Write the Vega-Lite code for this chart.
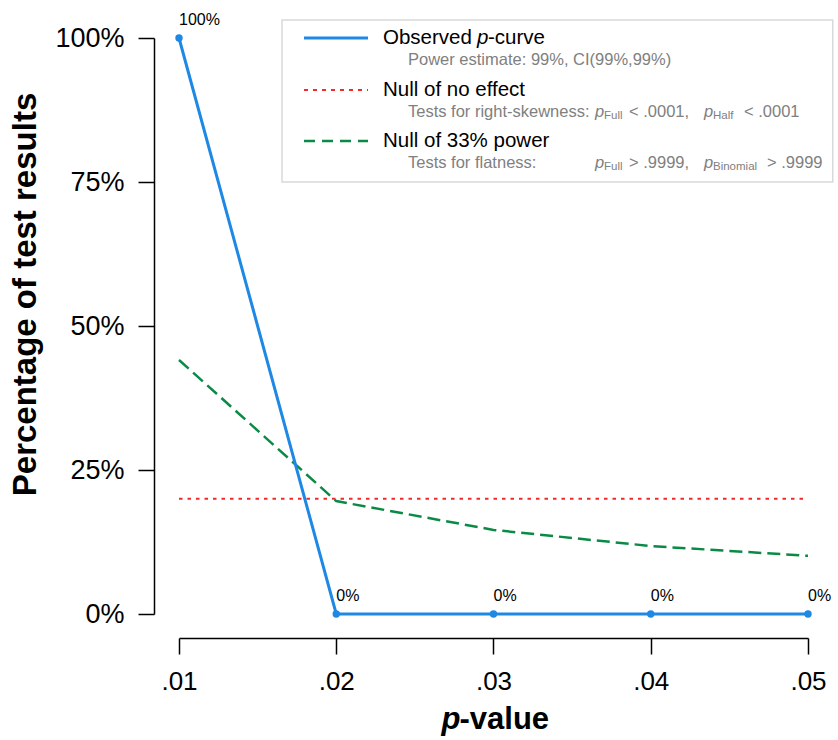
{
  "$schema": "https://vega.github.io/schema/vega-lite/v6.json",
  "width": 629,
  "height": 576,
  "autosize": "none",
  "padding": {"left": 179, "top": 38, "right": 30, "bottom": 126},
  "background": "white",
  "config": {
    "font": "Liberation Sans",
    "view": {"stroke": null},
    "axis": {"grid": false, "domainColor": "black", "tickColor": "black", "domainWidth": 1.5, "tickWidth": 1.5, "labelColor": "black", "titleColor": "black", "labelFont": "Liberation Sans", "titleFont": "Liberation Sans"}
  },
  "datasets": {
    "curves": [
      {"series": "observed", "p": 0.01, "pct": 100},
      {"series": "observed", "p": 0.02, "pct": 0},
      {"series": "observed", "p": 0.03, "pct": 0},
      {"series": "observed", "p": 0.04, "pct": 0},
      {"series": "observed", "p": 0.05, "pct": 0},
      {"series": "null33", "p": 0.01, "pct": 44.1},
      {"series": "null33", "p": 0.02, "pct": 19.6},
      {"series": "null33", "p": 0.03, "pct": 14.6},
      {"series": "null33", "p": 0.04, "pct": 11.8},
      {"series": "null33", "p": 0.05, "pct": 10.1},
      {"series": "null0", "p": 0.01, "pct": 20},
      {"series": "null0", "p": 0.02, "pct": 20},
      {"series": "null0", "p": 0.03, "pct": 20},
      {"series": "null0", "p": 0.04, "pct": 20},
      {"series": "null0", "p": 0.05, "pct": 20}
    ]
  },
  "data": {"name": "curves"},
  "layer": [
    {
      "encoding": {
        "x": {"field": "p", "type": "quantitative", "scale": {"domain": [0.01, 0.05], "nice": false, "zero": false},
          "axis": {"values": [0.01, 0.02, 0.03, 0.04, 0.05], "offset": 24, "tickSize": 16, "labelFontSize": 26, "labelPadding": 14, "labelExpr": "substring(format(datum.value, '.2f'), 1)", "title": null, "labelFlush": false}},
        "y": {"field": "pct", "type": "quantitative", "scale": {"domain": [0, 100], "nice": false},
          "axis": {"values": [0, 25, 50, 75, 100], "offset": 25, "tickSize": 16, "labelFontSize": 27, "labelPadding": 14, "labelExpr": "datum.value + '%'", "labelFlush": false, "title": "Percentage of test results", "titleFontSize": 33, "titleFontWeight": "bold", "titlePadding": 12, "titleY": 256}}
      },
      "layer": [
        {"transform": [{"filter": "datum.series === 'null0'"}], "mark": {"type": "line", "color": "#F22A2A", "strokeWidth": 2, "strokeDash": [3.5, 5]}},
        {"transform": [{"filter": "datum.series === 'null33'"}], "mark": {"type": "line", "color": "#0A8A45", "strokeWidth": 2.5, "strokeDash": [13, 6]}},
        {"transform": [{"filter": "datum.series === 'observed'"}], "mark": {"type": "line", "color": "#1E88E5", "strokeWidth": 3}},
        {"transform": [{"filter": "datum.series === 'observed'"}], "mark": {"type": "point", "filled": true, "opacity": 1, "color": "#1E88E5", "size": 55}},
        {"transform": [{"filter": "datum.series === 'observed'"}, {"calculate": "datum.pct + '%'", "as": "lab"}], "mark": {"type": "text", "align": "left", "baseline": "alphabetic", "dx": 0, "dy": -13, "fontSize": 16, "color": "black"}, "encoding": {"text": {"field": "lab"}}}
      ]
    },
    {
      "transform": [{"filter": "datum.series === 'observed' && datum.pct === 100"}],
      "layer": [
        {"mark": {"type": "text", "align": "right", "baseline": "middle", "fontSize": 31, "fontWeight": "bold", "fontStyle": "italic", "dx": -33, "color": "black"},
          "encoding": {"x": {"datum": 0.03}, "y": {"datum": -18.4}, "text": {"value": "p"}}},
        {"mark": {"type": "text", "align": "left", "baseline": "middle", "fontSize": 31, "fontWeight": "bold", "dx": -34, "color": "black"},
          "encoding": {"x": {"datum": 0.03}, "y": {"datum": -18.4}, "text": {"value": "-value"}}},
        {"mark": {"type": "rect", "fill": "white", "stroke": "#d9d9d9", "strokeWidth": 1.5},
          "encoding": {"x": {"datum": 0.01655}, "x2": {"datum": 0.051574}, "y": {"datum": 103.125}, "y2": {"datum": 75.0}}},
        {"mark": {"type": "rule", "color": "#1E88E5", "strokeWidth": 3},
          "encoding": {"x": {"datum": 0.017949}, "x2": {"datum": 0.022019}, "y": {"datum": 100}}},
        {"mark": {"type": "rule", "color": "#F22A2A", "strokeWidth": 2, "strokeDash": [4, 5]},
          "encoding": {"x": {"datum": 0.017949}, "x2": {"datum": 0.022019}, "y": {"datum": 90.97}}},
        {"mark": {"type": "rule", "color": "#0A8A45", "strokeWidth": 2.5, "strokeDash": [11, 7]},
          "encoding": {"x": {"datum": 0.017949}, "x2": {"datum": 0.022019}, "y": {"datum": 82.12}}},
        {"mark": {"type": "text", "align": "left", "baseline": "middle", "fontSize": 20.5, "color": "black"},
          "encoding": {"x": {"datum": 0.022973}, "y": {"datum": 100}, "text": {"value": "Observed"}}},
        {"mark": {"type": "text", "align": "left", "baseline": "middle", "fontSize": 20.5, "fontStyle": "italic", "dx": 94, "color": "black"},
          "encoding": {"x": {"datum": 0.022973}, "y": {"datum": 100}, "text": {"value": "p"}}},
        {"mark": {"type": "text", "align": "left", "baseline": "middle", "fontSize": 20.5, "dx": 105, "color": "black"},
          "encoding": {"x": {"datum": 0.022973}, "y": {"datum": 100}, "text": {"value": "-curve"}}},
        {"mark": {"type": "text", "align": "left", "baseline": "middle", "fontSize": 20.5, "color": "black"},
          "encoding": {"x": {"datum": 0.022973}, "y": {"datum": 90.97}, "text": {"value": "Null of no effect"}}},
        {"mark": {"type": "text", "align": "left", "baseline": "middle", "fontSize": 20.5, "color": "black"},
          "encoding": {"x": {"datum": 0.022973}, "y": {"datum": 82.12}, "text": {"value": "Null of 33% power"}}},
        {"mark": {"type": "text", "align": "left", "baseline": "middle", "fontSize": 16.5, "color": "#808080"},
          "encoding": {"x": {"datum": 0.024563}, "y": {"datum": 96.18}, "text": {"value": "Power estimate: 99%, CI(99%,99%)"}}},
        {"mark": {"type": "text", "align": "left", "baseline": "middle", "fontSize": 16.5, "color": "#808080"},
          "encoding": {"x": {"datum": 0.024563}, "y": {"datum": 87.15}, "text": {"value": "Tests for right-skewness:"}}},
        {"mark": {"type": "text", "align": "left", "baseline": "middle", "fontSize": 16.5, "fontStyle": "italic", "dx": 187, "color": "#808080"},
          "encoding": {"x": {"datum": 0.024563}, "y": {"datum": 87.15}, "text": {"value": "p"}}},
        {"mark": {"type": "text", "align": "left", "baseline": "middle", "fontSize": 11.5, "dx": 196, "dy": 4, "color": "#808080"},
          "encoding": {"x": {"datum": 0.024563}, "y": {"datum": 87.15}, "text": {"value": "Full"}}},
        {"mark": {"type": "text", "align": "left", "baseline": "middle", "fontSize": 16.5, "dx": 221, "color": "#808080"},
          "encoding": {"x": {"datum": 0.024563}, "y": {"datum": 87.15}, "text": {"value": "< .0001,"}}},
        {"mark": {"type": "text", "align": "left", "baseline": "middle", "fontSize": 16.5, "fontStyle": "italic", "dx": 296, "color": "#808080"},
          "encoding": {"x": {"datum": 0.024563}, "y": {"datum": 87.15}, "text": {"value": "p"}}},
        {"mark": {"type": "text", "align": "left", "baseline": "middle", "fontSize": 11.5, "dx": 305, "dy": 4, "color": "#808080"},
          "encoding": {"x": {"datum": 0.024563}, "y": {"datum": 87.15}, "text": {"value": "Half"}}},
        {"mark": {"type": "text", "align": "left", "baseline": "middle", "fontSize": 16.5, "dx": 336, "color": "#808080"},
          "encoding": {"x": {"datum": 0.024563}, "y": {"datum": 87.15}, "text": {"value": "< .0001"}}},
        {"mark": {"type": "text", "align": "left", "baseline": "middle", "fontSize": 16.5, "color": "#808080"},
          "encoding": {"x": {"datum": 0.024563}, "y": {"datum": 78.30}, "text": {"value": "Tests for flatness:"}}},
        {"mark": {"type": "text", "align": "left", "baseline": "middle", "fontSize": 16.5, "fontStyle": "italic", "dx": 187, "color": "#808080"},
          "encoding": {"x": {"datum": 0.024563}, "y": {"datum": 78.30}, "text": {"value": "p"}}},
        {"mark": {"type": "text", "align": "left", "baseline": "middle", "fontSize": 11.5, "dx": 196, "dy": 4, "color": "#808080"},
          "encoding": {"x": {"datum": 0.024563}, "y": {"datum": 78.30}, "text": {"value": "Full"}}},
        {"mark": {"type": "text", "align": "left", "baseline": "middle", "fontSize": 16.5, "dx": 221, "color": "#808080"},
          "encoding": {"x": {"datum": 0.024563}, "y": {"datum": 78.30}, "text": {"value": "> .9999,"}}},
        {"mark": {"type": "text", "align": "left", "baseline": "middle", "fontSize": 16.5, "fontStyle": "italic", "dx": 296, "color": "#808080"},
          "encoding": {"x": {"datum": 0.024563}, "y": {"datum": 78.30}, "text": {"value": "p"}}},
        {"mark": {"type": "text", "align": "left", "baseline": "middle", "fontSize": 11.5, "dx": 305, "dy": 4, "color": "#808080"},
          "encoding": {"x": {"datum": 0.024563}, "y": {"datum": 78.30}, "text": {"value": "Binomial"}}},
        {"mark": {"type": "text", "align": "left", "baseline": "middle", "fontSize": 16.5, "dx": 359, "color": "#808080"},
          "encoding": {"x": {"datum": 0.024563}, "y": {"datum": 78.30}, "text": {"value": "> .9999"}}}
      ]
    }
  ]
}
